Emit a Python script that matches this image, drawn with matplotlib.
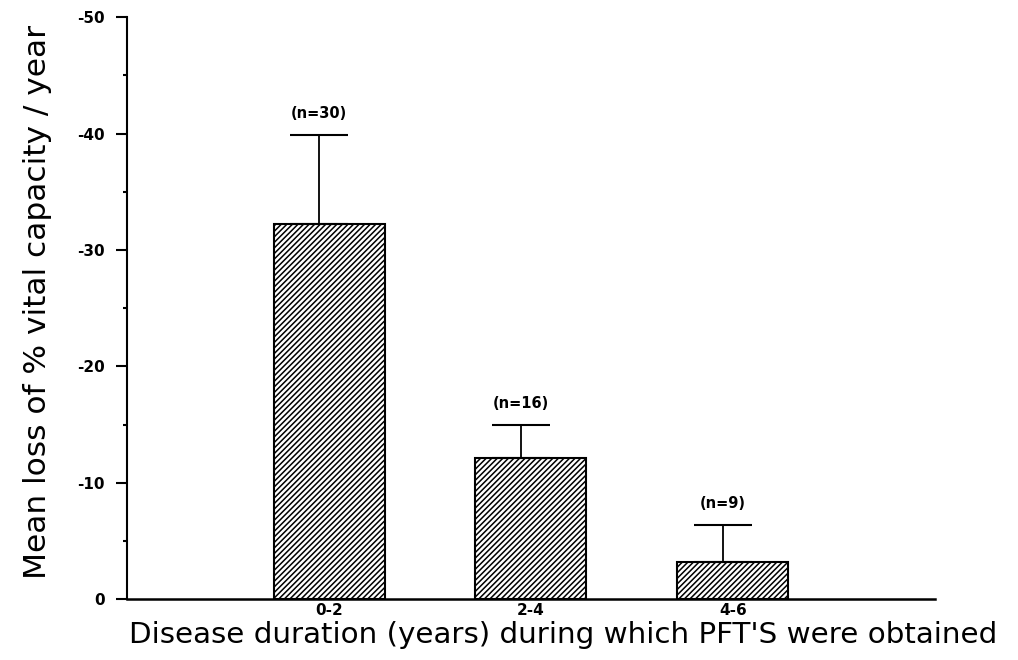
import matplotlib
matplotlib.use("Agg")
import matplotlib.pyplot as plt
from matplotlib.ticker import MultipleLocator

categories = ["0-2", "2-4", "4-6"]
mean_loss = [-32.2, -12.1, -3.2]
err_upper = [7.7, 2.9, 3.2]
n_labels = ["(n=30)", "(n=16)", "(n=9)"]
ytick_vals = [0, -10, -20, -30, -40, -50]
ytick_labels = ["0", "-10", "-20", "-30", "-40", "-50"]

plt.rcParams["hatch.linewidth"] = 1.1
fig = plt.figure(figsize=(10.18, 6.60), dpi=100)
ax = fig.add_axes([0.125, 0.092, 0.793, 0.882])

x = list(range(len(categories)))
ax.bar(x, mean_loss, width=0.55, color="white", edgecolor="black",
       hatch="//////", linewidth=1.5, zorder=2)
xe = [i - 0.05 for i in x]
ax.errorbar(xe, mean_loss, yerr=[err_upper, [0] * len(x)], fmt="none",
            ecolor="black", elinewidth=1.3, capsize=21, capthick=1.5, zorder=3)
for xi, m, e, lab in zip(xe, mean_loss, err_upper, n_labels):
    ax.text(xi, m - e - 1.2, lab, ha="center", va="bottom",
            fontsize=10.5, fontweight="bold")

ax.set_xlim(-1, 3)
ax.set_ylim(0, -50)
ax.set_yticks(ytick_vals)
ax.set_yticklabels(ytick_labels, fontsize=11, fontweight="bold")
ax.yaxis.set_minor_locator(MultipleLocator(5))
ax.set_xticks(x)
ax.set_xticklabels(categories, fontsize=11, fontweight="bold")
ax.tick_params(axis="x", length=0, pad=3)
ax.tick_params(axis="y", which="major", length=8, width=1.5, pad=8)
ax.tick_params(axis="y", which="minor", length=3, width=1.5)
for s in ["top", "right"]:
    ax.spines[s].set_visible(False)
ax.spines["left"].set_linewidth(1.5)
ax.spines["bottom"].set_linewidth(1.8)

ax.set_xlabel("Disease duration (years) during which PFT'S were obtained",
              fontsize=21.2)
ax.xaxis.set_label_coords(0.54, -0.037)
ax.set_ylabel("Mean loss of % vital capacity / year", fontsize=22.5)
ax.yaxis.set_label_coords(-0.093, 0.51)

fig.savefig("out.png", dpi=100)
